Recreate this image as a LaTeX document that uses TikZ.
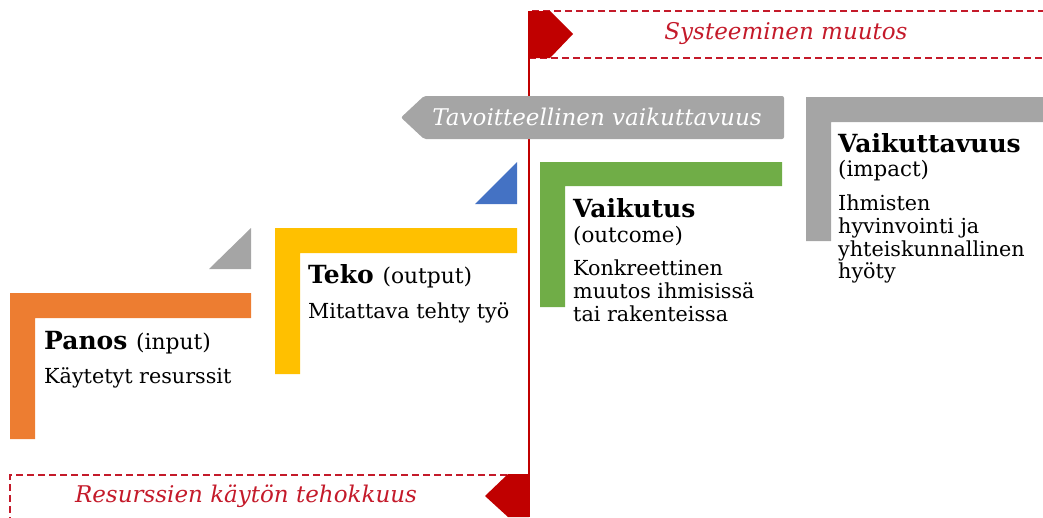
\documentclass[tikz,border=0pt]{standalone}
\usepackage{fontspec}
\setmainfont{DejaVu Serif}
\definecolor{cred}{HTML}{C00000}
\definecolor{ctxtred}{HTML}{C41A2A}
\definecolor{corange}{HTML}{ED7D31}
\definecolor{cyellow}{HTML}{FFC000}
\definecolor{cgreen}{HTML}{70AD47}
\definecolor{cgray}{HTML}{A5A5A5}
\definecolor{cblue}{HTML}{4472C4}
\newcommand{\parfont}{\mdseries\fontsize{21.8}{26}\selectfont}
\tikzset{
  dashbox/.style={draw=ctxtred, line width=1.2pt, dash pattern=on 7pt off 4pt},
  redtxt/.style={text=ctxtred, font=\fontsize{23}{27}\selectfont\itshape, inner sep=0pt},
  ttl/.style={anchor=base west, inner sep=0pt, font=\fontsize{25}{29}\selectfont\bfseries},
  dsc/.style={anchor=base west, inner sep=0pt, font=\fontsize{20.7}{25}\selectfont},
  prn/.style={anchor=base west, inner sep=0pt, font=\fontsize{21.4}{25}\selectfont},
}
\begin{document}
\begin{tikzpicture}[x=1pt,y=-1pt]
\useasboundingbox (0,0) rectangle (1043,517);
% red dashed boxes
\draw[dashbox] (1045,11) -- (529,11);
\draw[dashbox] (529,58) -- (1045,58);
\draw[dashbox] (529,475) -- (10,475) -- (10,520);
% red vertical line
\draw[cred, line width=1.3pt] (529,11) -- (529,517);
% red pentagons
\fill[cred] (529,11) -- (550,11) -- (573,34) -- (550,58) -- (529,58) -- cycle;
\fill[cred] (529,474) -- (508,474) -- (485,496) -- (508,517) -- (529,517) -- cycle;
\node[redtxt] (sys) at (786,34) {Systeeminen muutos};
\node[redtxt] (res) at (246,496) {Resurssien käytön tehokkuus};
% gray arrow
\fill[cgray, rounded corners=2pt] (784,96) -- (424,96) -- (401,117.5) -- (424,139) -- (784,139) -- cycle;
\node[text=white, font=\fontsize{23}{27}\selectfont\itshape, inner sep=0pt] (tav) at (597,117) {Tavoitteellinen vaikuttavuus};
% triangles
\fill[cblue] (475,204) -- (517,204) -- (517,162) -- cycle;
\fill[cgray] (209,269) -- (251,269) -- (251,228) -- cycle;
% L shapes
\fill[corange] (10,293) -- (251,293) -- (251,318) -- (35,318) -- (35,439) -- (10,439) -- cycle;
\fill[cyellow] (275,228) -- (517,228) -- (517,253) -- (300,253) -- (300,374) -- (275,374) -- cycle;
\fill[cgreen] (540,162) -- (782,162) -- (782,186) -- (565,186) -- (565,307) -- (540,307) -- cycle;
\fill[cgray] (806,97) -- (1043,97) -- (1043,122) -- (831,122) -- (831,241) -- (806,241) -- cycle;
% Panos
\node[ttl] (panos) at (44,349) {Panos {\parfont (input)}};
\node[dsc] (panosd) at (44,383) {Käytetyt resurssit};
% Teko
\node[ttl] (teko) at (308,283) {Teko {\parfont (output)}};
\node[dsc] (tekod) at (308,318) {Mitattava tehty työ};
% Vaikutus
\node[ttl] (vaik) at (573,217) {Vaikutus};
\node[prn] (vaik1) at (573,242) {(outcome)};
\node[dsc] (vaik2) at (573,275) {Konkreettinen};
\node[dsc] (vaik3) at (573,298) {muutos ihmisissä};
\node[dsc] (vaik4) at (573,321) {tai rakenteissa};
% Vaikuttavuus
\node[ttl] (vtv) at (838,152) {Vaikuttavuus};
\node[prn] (vtv1) at (838,176) {(impact)};
\node[dsc] (vtv2) at (838,210) {Ihmisten};
\node[dsc] (vtv3) at (838,233) {hyvinvointi ja};
\node[dsc] (vtv4) at (838,256) {yhteiskunnallinen};
\node[dsc] (vtv5) at (838,278) {hyöty};
\end{tikzpicture}
\end{document}
